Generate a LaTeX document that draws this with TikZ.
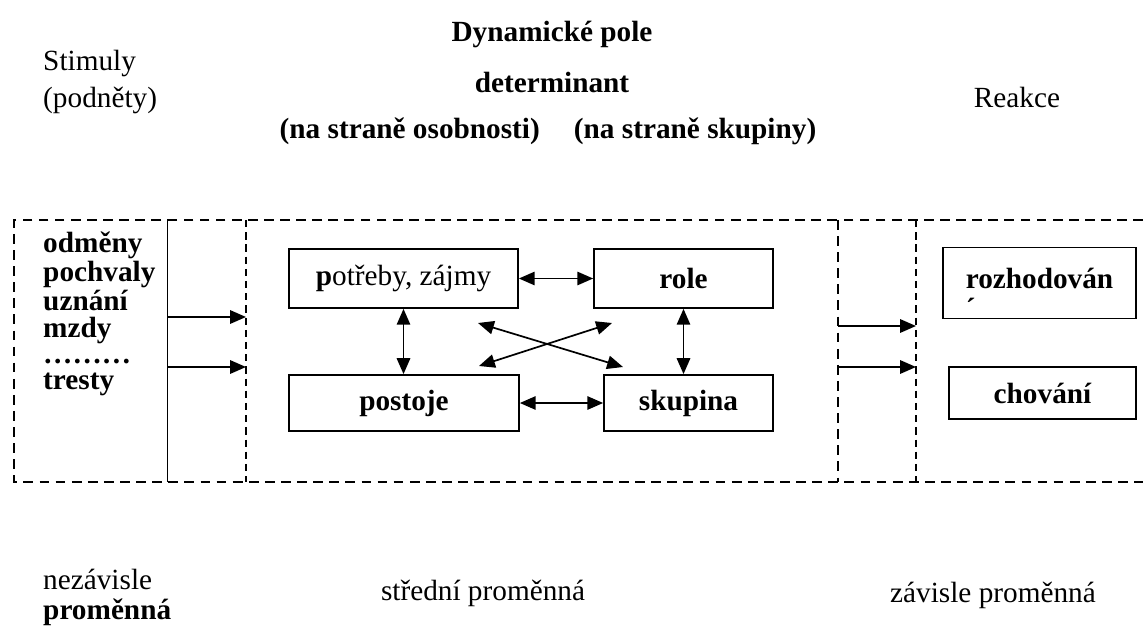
\documentclass[tikz,border=0pt,12pt]{standalone}
\usepackage{fontspec}
\setmainfont{Liberation Serif}
\usepackage{tikz}
\usetikzlibrary{arrows.meta, positioning}

\begin{document}
\begin{tikzpicture}[x=0.41pt, y=-0.41pt,
        box/.style={draw, line width=0.7pt, inner sep=0pt, font=\bfseries},
        link/.style={{Triangle[length=6.5pt, width=5.5pt]}-{Triangle[length=6.5pt, width=5.5pt]}, line width=0.7pt},
        push/.style={-{Triangle[length=6.5pt, width=5.5pt]}, line width=0.7pt},
        frame/.style={dash pattern=on 4pt off 2.6pt, line width=0.7pt},
        thinframe/.style={dash pattern=on 3pt off 2pt, line width=0.45pt}]
        \useasboundingbox (0,0) rectangle (1143,627);

        % headings
        \node[anchor=west, align=left, font=\fontsize{12}{15.2}\selectfont] (stim) at (33,82) {Stimuly\\(podněty)};
        \node[font=\bfseries] (title) at (552,34) {Dynamické pole};
        \node[font=\bfseries] (det) at (552,82) {determinant};
        \node[font=\bfseries] (sides) at (548,131) {(na straně osobnosti)\hspace{14pt}(na straně skupiny)};
        \node (react) at (1017,97) {Reakce};

        % dashed frame
        \draw[frame] (1143,220) -- (14,220) -- (14,482) -- (1143,482);
        \draw[line width=0.4pt] (167,220) -- (167,482);
        \draw[thinframe] (246,220) -- (246,482);
        \draw[frame] (838,220) -- (838,482);
        \draw[thinframe] (916,220) -- (916,482);

        % stimuli
        \node[anchor=west, align=left, font=\bfseries\fontsize{12}{10.8}\selectfont] (list) at (33,314)
            {odměny\\pochvaly\\uznání\\mzdy\\………\\tresty};
        \coordinate (in1) at (167,317);
        \coordinate (in1e) at (246,317);
        \coordinate (in2) at (167,367);
        \coordinate (in2e) at (246,367);
        \draw[push] (in1) -- (in1e);
        \draw[push] (in2) -- (in2e);

        % determinants
        \node[box, minimum width=93.9pt, minimum height=24.2pt, font=\normalfont] (needs) at (403.5,278.5) {\textbf{p}otřeby, zájmy};
        \node[box, minimum width=73.4pt, minimum height=24.2pt] (role) at (683.5,278.5) {role};
        \node[box, minimum width=94.3pt, minimum height=23pt] (attit) at (404,403) {postoje};
        \node[box, minimum width=69.3pt, minimum height=23pt] (group) at (688.5,403) {skupina};

        \draw[link] (needs) -- (role);
        \draw[link] (attit) -- (group);
        \draw[link] (needs.south) -- (attit.north -| needs.south);
        \draw[link] (role.south) -- (role.south |- group.north);

        \coordinate (xa) at (478,323);
        \coordinate (xb) at (623,367);
        \coordinate (xc) at (479,366);
        \coordinate (xd) at (612,323);
        \draw[link] (xa) -- (xb);
        \draw[link] (xc) -- (xd);

        % reactions
        \coordinate (out1) at (838,326);
        \coordinate (out1e) at (916,326);
        \coordinate (out2) at (838,367);
        \coordinate (out2e) at (916,367);
        \draw[push] (out1) -- (out1e);
        \draw[push] (out2) -- (out2e);

        \node[box, minimum width=79.1pt, minimum height=27.9pt, text height=29pt, text depth=-1.4pt, align=left,
            font=\bfseries\fontsize{12}{12.3}\selectfont] (decide) at (1039.5,283) {rozhodován\\´};
        \node[box, minimum width=76.7pt, minimum height=21.3pt] (behave) at (1042.5,393) {chování};

        % bottom labels
        \node[anchor=west, align=left, font=\fontsize{12}{12.3}\selectfont] (indep) at (33,597) {nezávisle\\\textbf{proměnná}};
        \node (mid) at (483,593) {střední proměnná};
        \node (dep) at (993,595) {závisle proměnná};
\end{tikzpicture}
\end{document}
